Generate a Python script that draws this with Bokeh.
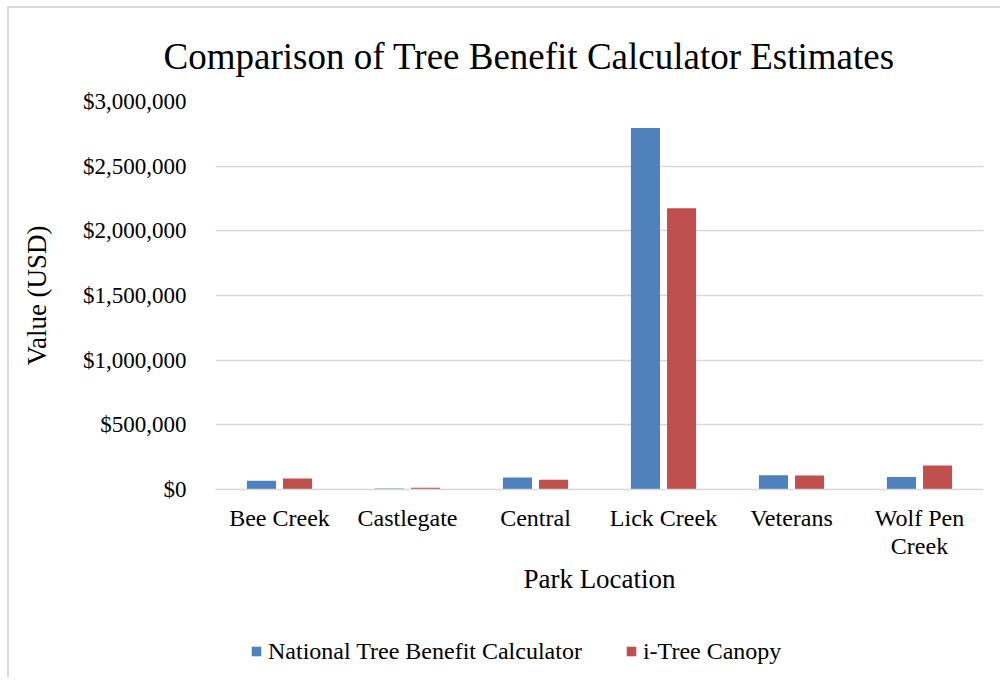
from bokeh.plotting import figure
from bokeh.layouts import column
from bokeh.models import (ColumnDataSource, NumeralTickFormatter, Legend, LegendItem,
                          FixedTicker, Title, Range1d)
from bokeh.transform import dodge
from bokeh.embed import file_html
from bokeh.resources import INLINE

# Park locations and the two calculator estimates (USD)
parks = ["Bee Creek", "Castlegate", "Central", "Lick Creek", "Veterans", "Wolf Pen\nCreek"]
national_tree_benefit = [68000, 7000, 93000, 2795000, 110000, 96000]
itree_canopy = [86000, 14000, 76000, 2175000, 109000, 185000]
y_ticks = [0, 500000, 1000000, 1500000, 2000000, 2500000, 3000000]
series_labels = ["National Tree Benefit Calculator", "i-Tree Canopy"]

FONT = "Liberation Serif"
BLUE = "#4F81BD"
RED = "#C0504D"
GRID = "#d9d9d9"
EDGE = {"border-left": "2px solid #d9d9d9"}

source = ColumnDataSource(dict(park=parks, ntbc=national_tree_benefit, itree=itree_canopy))

p = figure(
    x_range=parks, y_range=(0, 3000000),
    frame_width=766, frame_height=386,
    output_backend="svg", toolbar_location=None,
    min_border_left=206, min_border_right=19, min_border_top=93, min_border_bottom=130,
)
p.margin = (6, 0, 0, 7)
p.styles = {**EDGE, "border-top": "2px solid #d9d9d9"}
p.outline_line_color = None
p.background_fill_color = "white"
p.border_fill_color = "white"

p.vbar(x=dodge("park", -0.141, range=p.x_range), top="ntbc", width=0.227,
       source=source, fill_color=BLUE, line_color=None)
p.vbar(x=dodge("park", 0.141, range=p.x_range), top="itree", width=0.227,
       source=source, fill_color=RED, line_color=None)

# Title
title = Title(text="Comparison of Tree Benefit Calculator Estimates", align="left",
              text_font=FONT, text_font_size="37px", text_font_style="normal",
              text_color="black", offset=-52, standoff=50)
p.add_layout(title, "above")

# Axes
p.yaxis.ticker = FixedTicker(ticks=y_ticks)
p.yaxis.formatter = NumeralTickFormatter(format="$0,0")
p.yaxis.axis_line_color = None
p.yaxis.major_tick_line_color = None
p.yaxis.minor_tick_line_color = None
p.yaxis.major_label_text_font = FONT
p.yaxis.major_label_text_font_size = "23px"
p.yaxis.major_label_text_color = "black"
p.yaxis.major_label_standoff = 23
p.yaxis.axis_label = "Value (USD)"
p.yaxis.axis_label_text_font = FONT
p.yaxis.axis_label_text_font_size = "27px"
p.yaxis.axis_label_text_font_style = "normal"
p.yaxis.axis_label_text_color = "black"
p.yaxis.axis_label_standoff = 28

p.xaxis.axis_line_color = GRID
p.xaxis.axis_line_width = 1.5
p.xaxis.major_tick_line_color = None
p.xaxis.minor_tick_line_color = None
p.xaxis.major_label_text_font = FONT
p.xaxis.major_label_text_font_size = "24px"
p.xaxis.major_label_text_color = "black"
p.xaxis.major_label_text_line_height = 1.1
p.xaxis.major_label_standoff = 9
p.xaxis.axis_label = "Park Location"
p.xaxis.axis_label_text_font = FONT
p.xaxis.axis_label_text_font_size = "27px"
p.xaxis.axis_label_text_font_style = "normal"
p.xaxis.axis_label_text_color = "black"
p.xaxis.axis_label_standoff = 2

p.xgrid.grid_line_color = None
p.ygrid.grid_line_color = GRID
p.ygrid.grid_line_width = 1.5
p.x_range.range_padding = 0

# Legend strip under the chart; its series renderers are hidden, only the keys show
lp = figure(
    width=991, height=60, x_range=p.x_range, y_range=Range1d(-2, -1),
    x_axis_type=None, y_axis_type=None,
    output_backend="svg", toolbar_location=None, min_border=0,
)
lp.margin = (0, 0, 0, 7)
lp.styles = dict(EDGE)
lp.outline_line_color = None
lp.background_fill_color = "white"
lp.border_fill_color = "white"
k1 = lp.vbar(x=dodge("park", -0.141, range=lp.x_range), top="ntbc", width=0.227,
             source=source, fill_color=BLUE, line_color=None, visible=False)
k2 = lp.vbar(x=dodge("park", 0.141, range=lp.x_range), top="itree", width=0.227,
             source=source, fill_color=RED, line_color=None, visible=False)

legend = Legend(
    items=[LegendItem(label=series_labels[0], renderers=[k1]),
           LegendItem(label=series_labels[1], renderers=[k2])],
    orientation="horizontal", location=(35, 12),
    glyph_width=12, glyph_height=12, label_height=28, label_standoff=6, spacing=43,
    padding=0, margin=0, border_line_color=None, background_fill_alpha=0,
    inactive_fill_alpha=0,
    label_text_font=FONT, label_text_font_size="24px", label_text_color="black",
)
lp.add_layout(legend, "center")

open("out.html", "w").write(file_html(column(p, lp, spacing=0), INLINE))
